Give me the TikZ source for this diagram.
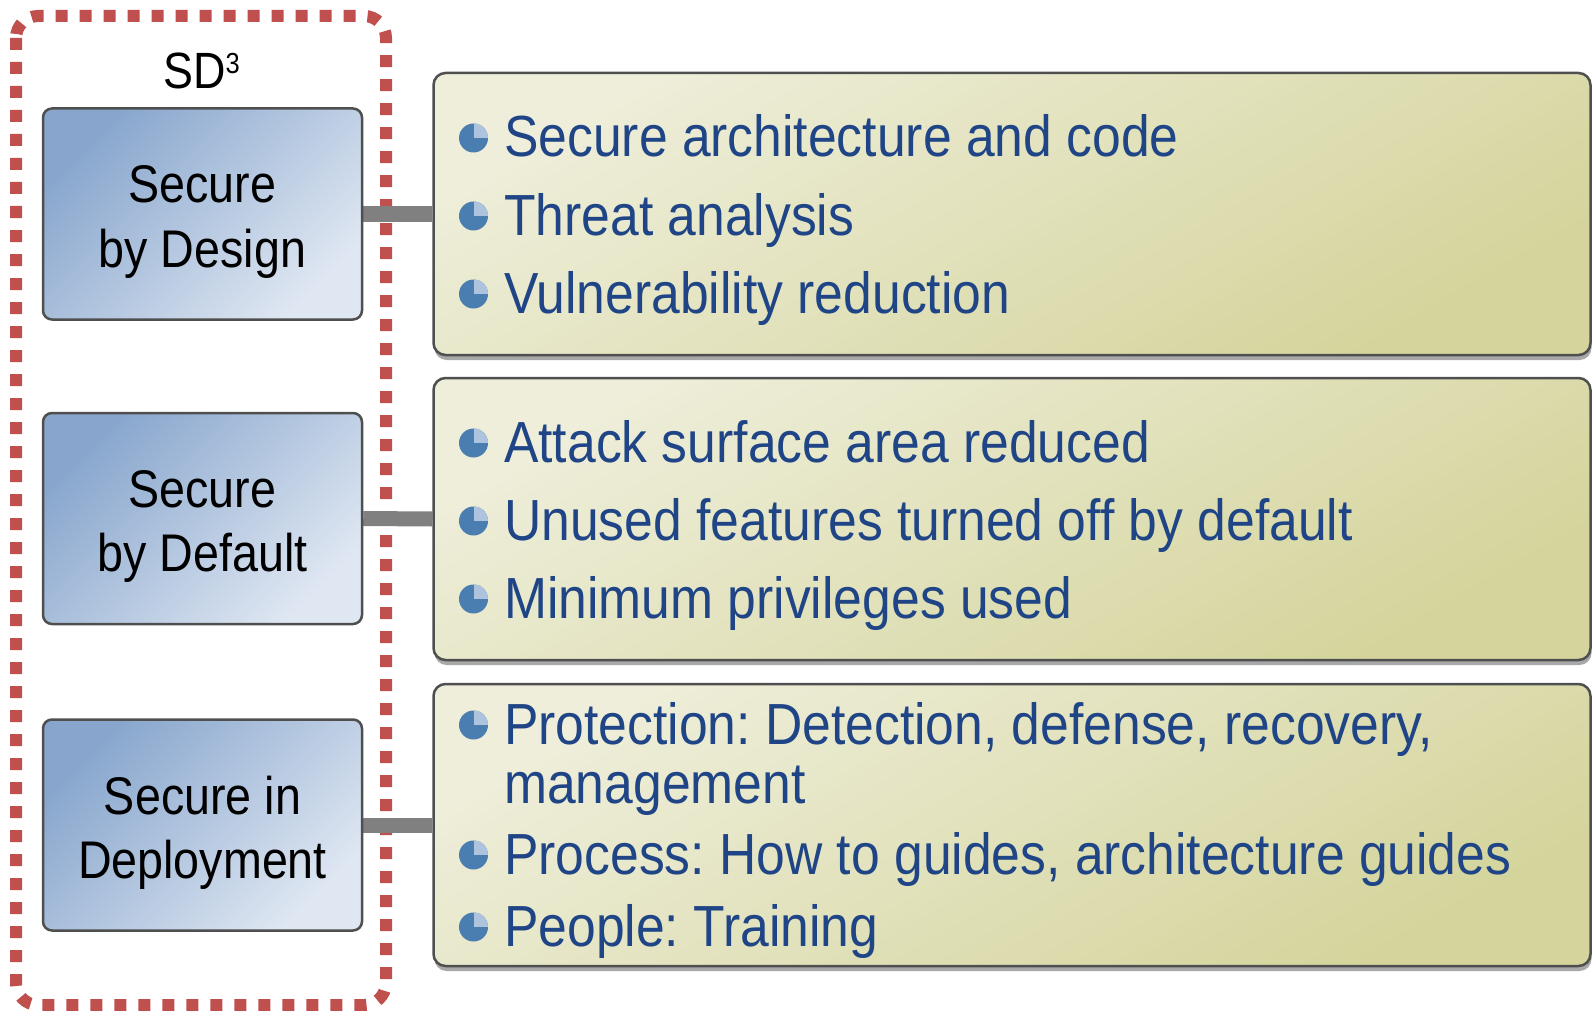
\documentclass[tikz,border=0pt]{standalone}
\usepackage{fontspec}
\setmainfont{Liberation Sans}
\newfontfamily\itemfont[FakeStretch=0.89]{Liberation Sans}
\newfontfamily\boxfont[FakeStretch=0.88]{Liberation Sans}
\usetikzlibrary{shadows}
\definecolor{dashred}{HTML}{C0504D}
\definecolor{lboxA}{HTML}{88A6CD}
\definecolor{lboxB}{HTML}{DFE7F2}
\definecolor{rboxA}{HTML}{EEEEDA}
\definecolor{rboxB}{HTML}{D4D49C}
\definecolor{edgegray}{HTML}{4F4F4F}
\definecolor{itemblue}{HTML}{1F4586}
\definecolor{bulA}{HTML}{4A7DB0}
\definecolor{bulB}{HTML}{AEC3DD}
\definecolor{barg}{HTML}{808080}
\definecolor{shadowg}{HTML}{A8A8A8}
\pgfdeclarelayer{bgzero}
\pgfdeclarelayer{bgone}
\pgfsetlayers{bgzero,bgone,main}
\frenchspacing
\begin{document}
\begin{tikzpicture}[x=1pt,y=-1pt,
  leftbox/.style={draw=edgegray, line width=2.5pt, rounded corners=9pt,
    minimum width=319pt, minimum height=211pt, inner sep=0pt,
    top color=lboxA, bottom color=lboxB, shading angle=45},
  rightbox/.style={draw=edgegray, line width=2.5pt, rounded corners=12pt,
    minimum width=1157pt, minimum height=282pt, inner sep=0pt,
    top color=rboxA, bottom color=rboxB, shading angle=30,
    drop shadow={shadow xshift=1pt, shadow yshift=-5pt, fill=shadowg, opacity=1}},
  boxtext/.style={anchor=base, inner sep=0pt, text=black,
    font=\boxfont\fontsize{53}{64}\selectfont},
  itemtext/.style={anchor=base west, inner sep=0pt, text=itemblue,
    font=\itemfont\fontsize{58}{70}\selectfont},
  bullet/.style={circle, fill=bulA, minimum size=29pt, inner sep=0pt,
    path picture={\fill[bulB] (path picture bounding box.center) rectangle (path picture bounding box.north east);}},
  bar/.style={draw=barg, line width=15pt},
  frame/.style={draw=dashred, line width=12pt, dash pattern=on 12pt off 12pt, rounded corners=22pt}
]
\useasboundingbox (0,0) rectangle (1592,1011);

% left boxes
\node[leftbox] (b1) at (202.5,214) {};
\node[leftbox] (b2) at (202.5,518.5) {};
\node[leftbox] (b3) at (202.5,825) {};

\node[boxtext] (b1a) at (202.5,203) {Secure};
\node[boxtext] (b1b) at (202.5,267) {by Design};
\node[boxtext] (b2a) at (202.5,507.5) {Secure};
\node[boxtext] (b2b) at (202.5,571.5) {by Default};
\node[boxtext] (b3a) at (202.5,814) {Secure in};
\node[boxtext] (b3b) at (202.5,878) {Deployment};

% title
\node[anchor=base west, inner sep=0pt, font=\boxfont\fontsize{51}{60}\selectfont] (sd) at (163,89)
  {SD\raisebox{15pt}{\fontsize{29}{29}\selectfont 3}};

% right boxes
\node[rightbox] (r1) at (1012,214) {};
\node[rightbox] (r2) at (1012,519) {};
\node[rightbox] (r3) at (1012,825) {};

% bullets and items
\node[bullet] (u11) at (473.5,138) {};
\node[bullet] (u12) at (473.5,216) {};
\node[bullet] (u13) at (473.5,294) {};
\node[itemtext] (t11) at (504,157) {Secure architecture and code};
\node[itemtext] (t12) at (504,235) {Threat analysis};
\node[itemtext] (t13) at (504,313) {Vulnerability reduction};

\node[bullet] (u21) at (473.5,443) {};
\node[bullet] (u22) at (473.5,521) {};
\node[bullet] (u23) at (473.5,599) {};
\node[itemtext] (t21) at (504,462) {Attack surface area reduced};
\node[itemtext] (t22) at (504,540) {Unused features turned off by default};
\node[itemtext] (t23) at (504,618) {Minimum privileges used};

\node[bullet] (u31) at (473.5,725) {};
\node[bullet] (u32) at (473.5,855) {};
\node[bullet] (u33) at (473.5,927) {};
\node[itemtext] (t31) at (504,744) {Protection: Detection, defense, recovery,};
\node[itemtext] (t31b) at (504,803) {management};
\node[itemtext] (t32) at (504,874) {Process: How to guides, architecture guides};
\node[itemtext] (t33) at (504,946) {People: Training};

% dashed frame and connectors behind boxes
\begin{pgfonlayer}{bgzero}
\draw[frame] (16,16) rectangle (386,1005);
\end{pgfonlayer}
\begin{pgfonlayer}{bgone}
\draw[bar] (b1.east) -- (r1.west);
\draw[bar] (b2.east) -- (r2.west);
\draw[bar] (b3.east) -- (r3.west);
\end{pgfonlayer}
\end{tikzpicture}
\end{document}
